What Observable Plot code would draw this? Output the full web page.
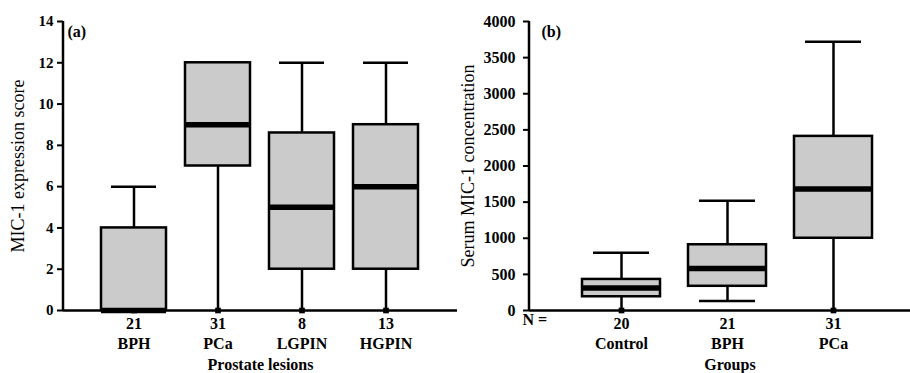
<!DOCTYPE html>
<html><head><meta charset="utf-8">
<script src="https://cdn.jsdelivr.net/npm/d3@7"></script>
<script src="https://cdn.jsdelivr.net/npm/@observablehq/plot@0.6"></script>
<style>
body{margin:0;background:#fff;}
#wrap{display:flex;width:910px;height:373px;overflow:hidden;background:#fff;}
#wrap svg{display:block;flex:none;}
</style></head><body><div id="wrap"></div>
<script>
// Panel (a): MIC-1 expression score by prostate lesion
const catsA = ["BPH", "PCa", "LGPIN", "HGPIN"];
const nA = [21, 31, 8, 13];
const minA = [0, 0, 0, 0];
const q1A = [0, 7, 2, 2];
const medA = [0, 9, 5, 6];
const q3A = [4, 12, 8.6, 9];
const maxA = [6, 12, 12, 12];
const yTicksA = [0, 2, 4, 6, 8, 10, 12, 14];

// Panel (b): serum MIC-1 concentration by group
const catsB = ["Control", "BPH", "PCa"];
const nB = [20, 21, 31];
const minB = [0, 130, 0];
const q1B = [190, 335, 1000];
const medB = [310, 580, 1680];
const q3B = [430, 910, 2410];
const maxB = [800, 1520, 3720];
const yTicksB = [0, 500, 1000, 1500, 2000, 2500, 3000, 3500, 4000];

function rows(cats, n, mn, q1, md, q3, mx) {
  return cats.map((c, i) => ({cat: c, n: n[i], min: mn[i], q1: q1[i], med: md[i], q3: q3[i], max: mx[i]}));
}

function panel(cfg) {
  const data = rows(cfg.cats, cfg.n, cfg.min, cfg.q1, cfg.med, cfg.q3, cfg.max);
  const yMax = cfg.yTicks[cfg.yTicks.length - 1];
  return Plot.plot({
    width: cfg.width, height: 373,
    marginLeft: cfg.ml, marginRight: 0, marginTop: 21, marginBottom: 63,
    style: {fontFamily: "'Liberation Serif', 'Times New Roman', serif", fontSize: "16px", color: "#000", background: "#fff", overflow: "visible"},
    x: {type: "band", domain: cfg.cats, paddingInner: cfg.pi, paddingOuter: cfg.po, align: cfg.align, axis: null},
    y: {domain: [0, yMax], axis: null},
    marks: [
      // axis lines
      Plot.ruleY([0], {stroke: "#000", strokeWidth: 2.5}),
      (index, scales, values, dims) => {
        const l = document.createElementNS("http://www.w3.org/2000/svg", "line");
        l.setAttribute("x1", dims.marginLeft); l.setAttribute("x2", dims.marginLeft);
        l.setAttribute("y1", scales.y(0) + 1); l.setAttribute("y2", scales.y(yMax));
        l.setAttribute("stroke", "#000"); l.setAttribute("stroke-width", 2.5);
        return l;
      },
      Plot.axisY({ticks: cfg.yTicks, tickSize: 6, tickFormat: () => "", label: null, strokeWidth: 2}),
      Plot.text(cfg.yTicks, {y: d => d, frameAnchor: "left", dx: -(6 + cfg.tp), textAnchor: "end", text: d => String(d), fontWeight: "bold", fontSize: cfg.fs}),
      // whiskers
      Plot.ruleX(data, {x: "cat", y1: "min", y2: "q1", stroke: "#000", strokeWidth: 2.5}),
      Plot.ruleX(data, {x: "cat", y1: "q3", y2: "max", stroke: "#000", strokeWidth: 2.5}),
      Plot.tickY(data, {x: "cat", y: "max", insetLeft: cfg.capInset, insetRight: cfg.capInset, stroke: "#000", strokeWidth: 2.5}),
      Plot.tickY(data, {filter: d => d.min > 0, x: "cat", y: "min", insetLeft: cfg.capInset, insetRight: cfg.capInset, stroke: "#000", strokeWidth: 2.5}),
      Plot.dot(data, {filter: d => d.min === 0, x: "cat", y: "min", symbol: "square", r: 3.2, fill: "#000"}),
      // boxes
      Plot.barY(data, {x: "cat", y1: "q1", y2: "q3", fill: "#cbcbcb", stroke: "#000", strokeWidth: 2.5}),
      Plot.tickY(data, {x: "cat", y: "med", stroke: "#000", strokeWidth: 5.5}),
      // x labels
      Plot.axisX({tickSize: 0, tickPadding: 7, tickFormat: d => String(cfg.n[cfg.cats.indexOf(d)]), fontWeight: "bold", fontSize: 16, label: null}),
      Plot.axisX({tickSize: 0, tickPadding: 27, fontWeight: "bold", fontSize: 16, label: null}),
      Plot.text([cfg.xLabel], {frameAnchor: "bottom", dx: cfg.xLabelDx, dy: 48, lineAnchor: "top", fontWeight: "bold", fontSize: 16}),
      Plot.text([cfg.yLabel], {frameAnchor: "left", dx: cfg.yLabelDx, rotate: -90, textAnchor: "middle", fontSize: 18}),
      Plot.text([cfg.tag], {frameAnchor: "top-left", dx: cfg.tagDx, dy: 4, lineAnchor: "top", textAnchor: "start", fontWeight: "bold", fontSize: 16}),
      ...(cfg.nLabel ? [Plot.text([cfg.nLabel], {frameAnchor: "bottom-left", dx: -7, dy: 3, lineAnchor: "top", textAnchor: "start", fontWeight: "bold", fontSize: 16})] : [])
    ]
  });
}

const wrap = document.getElementById("wrap");
wrap.appendChild(panel({
  cats: catsA, n: nA, min: minA, q1: q1A, med: medA, q3: q3A, max: maxA, yTicks: yTicksA,
  width: 457, ml: 63, pi: 0.226, po: 0.458, align: 0.5, capInset: 10, tp: 4, fs: 15,
  xLabel: "Prostate lesions", xLabelDx: 0, yLabel: "MIC-1 expression score", yLabelDx: -45, tag: "(a)", tagDx: 4
}));
wrap.appendChild(panel({
  cats: catsB, n: nB, min: minB, q1: q1B, med: medB, q3: q3B, max: maxB, yTicks: yTicksB,
  width: 453, ml: 72, pi: 0.268, po: 0.423, align: 0.578, capInset: 11, tp: 8, fs: 16,
  xLabel: "Groups", xLabelDx: 10, yLabel: "Serum MIC-1 concentration", yLabelDx: -61, tag: "(b)", tagDx: 12, nLabel: "N ="
}));
</script></body></html>
